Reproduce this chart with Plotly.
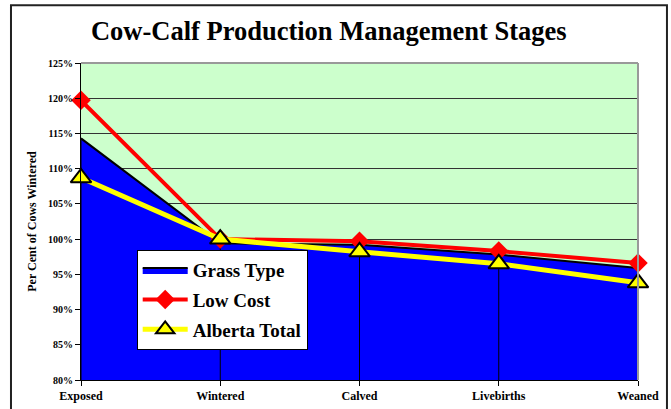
import plotly.graph_objects as go

stages = ["Exposed", "Wintered", "Calved", "Livebirths", "Weaned"]
grass_type = [114.3, 99.4, 99.2, 97.8, 95.9]
low_cost = [119.7, 100.0, 99.7, 98.3, 96.6]
alberta_total = [108.7, 100.0, 98.2, 96.5, 93.8]
y_ticks = [80, 85, 90, 95, 100, 105, 110, 115, 120, 125]
y_tick_labels = [f"{v}%" for v in y_ticks]

SERIF = "Liberation Serif, Times New Roman, serif"

fig = go.Figure()

fig.add_trace(go.Scatter(
    x=stages, y=grass_type, name="Grass Type", mode="lines",
    fill="tozeroy", fillcolor="#0000FF", legendgroup="g1",
    line=dict(color="black", width=2),
))

# drop lines from the area down to the base
drop_x, drop_y = [], []
for s, v in zip(stages, grass_type):
    drop_x += [s, s, None]
    drop_y += [y_ticks[0], v, None]
fig.add_trace(go.Scatter(
    x=drop_x, y=drop_y, mode="lines", showlegend=False, hoverinfo="skip",
    line=dict(color="black", width=1),
))

fig.add_trace(go.Scatter(
    x=stages, y=low_cost, name="Low Cost", mode="lines+markers",
    legendgroup="g2", cliponaxis=False,
    line=dict(color="#FF0000", width=4),
    marker=dict(symbol="diamond", size=15, color="#FF0000", line=dict(width=0)),
))

fig.add_trace(go.Scatter(
    x=stages, y=alberta_total, name="Alberta Total", mode="lines+markers",
    legendgroup="g3", cliponaxis=False,
    line=dict(color="#FFFF00", width=5),
    marker=dict(symbol="triangle-up", size=18, color="#FFFF00",
                line=dict(color="black", width=2)),
))

fig.update_layout(
    width=671, height=409,
    margin=dict(l=81, r=33, t=63, b=29, autoexpand=False),
    paper_bgcolor="white",
    plot_bgcolor="#CCFFCC",
    font=dict(family=SERIF, color="black"),
    title=dict(text="Cow-Calf Production Management Stages",
               x=0.49, xanchor="center", y=0.925, yanchor="middle",
               font=dict(family=SERIF, size=26.5, weight="bold", color="black")),
    showlegend=True,
    legend=dict(x=0.1, y=0.41, xanchor="left", yanchor="top",
                bgcolor="white", bordercolor="black", borderwidth=1,
                font=dict(family=SERIF, size=19, weight="bold"),
                tracegroupgap=2, itemwidth=45),
    shapes=[
        dict(type="rect", xref="paper", yref="paper",
             x0=-0.1257, x1=1.052, y0=-0.2, y1=1.182,
             line=dict(color="#222", width=2), layer="below"),
        dict(type="line", xref="paper", yref="paper", x0=0, x1=1, y0=1, y1=1,
             line=dict(color="#999", width=2)),
        dict(type="line", xref="paper", yref="paper", x0=1, x1=1, y0=0, y1=1,
             line=dict(color="#999", width=2)),
    ],
)

fig.update_xaxes(
    type="category", categoryorder="array", categoryarray=stages,
    range=[0, len(stages) - 1], automargin=False,
    showgrid=False, showline=True, linecolor="black", linewidth=1,
    ticks="outside", ticklen=5, tickcolor="black",
    tickfont=dict(family=SERIF, size=12, weight="bold"),
    zeroline=False,
)
fig.update_yaxes(
    range=[80, 125], tickvals=y_ticks, ticktext=y_tick_labels, automargin=False,
    showgrid=True, gridcolor="#333", gridwidth=1,
    showline=True, linecolor="black", linewidth=1,
    ticks="outside", ticklen=5, tickcolor="black",
    tickfont=dict(family=SERIF, size=10, weight="bold"),
    title=dict(text="Per Cent of Cows Wintered", standoff=8,
               font=dict(family=SERIF, size=12, weight="bold")),
    zeroline=False,
)

fig.write_html(
    "out.html",
    config={"displayModeBar": False},
    post_script="document.body.style.margin='0';document.body.style.overflow='hidden';",
)
